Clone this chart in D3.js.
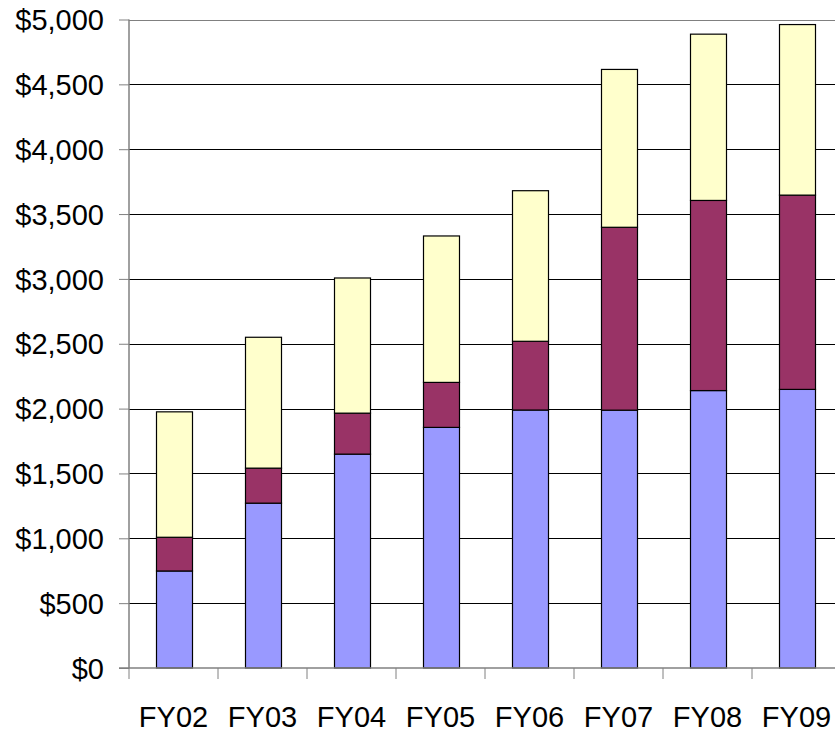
<!DOCTYPE html>
<html>
<head>
<meta charset="utf-8">
<script src="https://cdn.jsdelivr.net/npm/d3@7"></script>
<style>
  body { margin: 0; background: #fff; }
  svg { display: block; }
  text { font-family: "Liberation Sans", Arial, sans-serif; fill: #000; }
</style>
</head>
<body>
<svg class="board" width="835" height="733"></svg>
<script>
// chart data
var years = ['FY02', 'FY03', 'FY04', 'FY05', 'FY06', 'FY07', 'FY08', 'FY09'];
var seriesA = [748, 1271, 1649, 1855, 1989, 1988, 2139, 2148];   // blue, bottom
var seriesB = [260, 270, 316, 347, 530, 1410, 1466, 1498];       // maroon, middle
var seriesC = [967, 1009, 1042, 1129, 1161, 1217, 1282, 1315];   // yellow, top
var yTicks = [0, 500, 1000, 1500, 2000, 2500, 3000, 3500, 4000, 4500, 5000];
var colors = ['#9999ff', '#993366', '#ffffcc'];

var svg = d3.select('.board');
var left = 129, topY = 19.5, bottom = 668;
var band = 89;

var x = d3.scaleBand()
  .domain(years)
  .range([left, left + band * years.length])
  .padding(0);

var y = d3.scaleLinear()
  .domain([0, 5000])
  .range([bottom, topY]);

var fmt = function (d) { return '$' + d3.format(',')(d); };

// gridlines
svg.append('g')
  .selectAll('line')
  .data(yTicks.filter(function (d) { return d > 0; }))
  .enter()
  .append('line')
  .attr('x1', left)
  .attr('x2', 835)
  .attr('y1', function (d) { return Math.round(y(d)) + 0.5; })
  .attr('y2', function (d) { return Math.round(y(d)) + 0.5; })
  .attr('stroke', function (d) { return d === 5000 ? '#808080' : '#000'; })
  .attr('stroke-width', 1);

// stack the series
var rows = years.map(function (yr, i) {
  return { year: yr, a: seriesA[i], b: seriesB[i], c: seriesC[i] };
});
var stack = d3.stack().keys(['a', 'b', 'c'])(rows);

var barW = 36;
svg.append('g')
  .selectAll('g')
  .data(stack)
  .enter()
  .append('g')
  .attr('fill', function (d, i) { return colors[i]; })
  .selectAll('rect')
  .data(function (d) { return d; })
  .enter()
  .append('rect')
  .attr('x', function (d) { return Math.round(x(d.data.year) + x.bandwidth() / 2 - barW / 2) + 0.5; })
  .attr('width', barW)
  .attr('y', function (d) { return y(d[1]); })
  .attr('height', function (d) { return y(d[0]) - y(d[1]); })
  .attr('stroke', '#000')
  .attr('stroke-width', 1.2);

// y axis
var yAxis = svg.append('g')
  .attr('transform', 'translate(' + left + ',0)')
  .call(d3.axisLeft(y).tickValues(yTicks).tickFormat(fmt).tickSize(10).tickPadding(15));
yAxis.select('.domain').attr('stroke', '#808080').attr('stroke-width', 1.5).attr('d', 'M0,' + topY + 'V' + bottom);
yAxis.selectAll('.tick line').attr('stroke', '#808080');
yAxis.selectAll('text')
  .style('font-size', '29px')
  .attr('dy', '0.35em');

// x axis
var xAxis = svg.append('g')
  .attr('transform', 'translate(0,' + bottom + ')');
xAxis.append('line')
  .attr('x1', left - 10).attr('x2', 835)
  .attr('y1', 0).attr('y2', 0)
  .attr('stroke', '#808080').attr('stroke-width', 1.5);
xAxis.selectAll('.xtick')
  .data(years)
  .enter()
  .append('line')
  .attr('class', 'xtick')
  .attr('x1', function (d) { return x(d); })
  .attr('x2', function (d) { return x(d); })
  .attr('y1', 0).attr('y2', 11)
  .attr('stroke', '#808080');
xAxis.selectAll('.xlabel')
  .data(years)
  .enter()
  .append('text')
  .attr('class', 'xlabel')
  .attr('x', function (d) { return x(d) + x.bandwidth() / 2; })
  .attr('y', 59)
  .attr('text-anchor', 'middle')
  .style('font-size', '29px')
  .text(function (d) { return d; });
</script>
</body>
</html>
